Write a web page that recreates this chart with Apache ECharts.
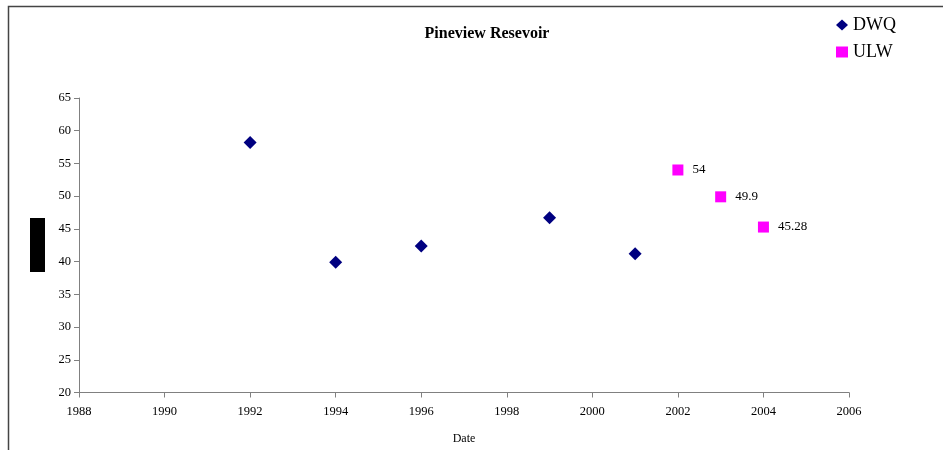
<!DOCTYPE html>
<html>
<head>
<meta charset="utf-8">
<script src="https://cdn.jsdelivr.net/npm/echarts@6/dist/echarts.min.js"></script>
<style>
  html, body { margin: 0; padding: 0; background: #fff; }
  #chart { width: 943px; height: 450px; }
</style>
</head>
<body>
<div id="chart"></div>
<script>
// Sampling years and measured values per source
const dwqYears = [1992, 1994, 1996, 1999, 2001];
const dwqValues = [58.2, 39.9, 42.4, 46.7, 41.2];
const ulwYears = [2002, 2003, 2004];
const ulwValues = [54, 49.9, 45.28];

const serif = '"Liberation Serif", "DejaVu Serif", serif';

const chart = echarts.init(document.getElementById('chart'), null, { renderer: 'canvas' });

chart.setOption({
  animation: false,
  backgroundColor: '#fff',
  title: {
    text: 'Pineview Resevoir',
    left: 482,
    top: 21,
    textAlign: 'center',
    textStyle: { fontFamily: serif, fontSize: 16, fontWeight: 'bold', color: '#000' }
  },
  legend: {
    orient: 'vertical',
    left: 831,
    top: 11,
    itemWidth: 12,
    itemHeight: 11,
    itemGap: 9,
    textStyle: { fontFamily: serif, fontSize: 18, color: '#000', lineHeight: 18 },
    data: [
      { name: 'DWQ', icon: 'diamond' },
      { name: 'ULW', icon: 'rect', itemStyle: { borderWidth: 0 } }
    ]
  },
  grid: { left: 79, top: 98, width: 770, height: 294.5 },
  xAxis: {
    type: 'value',
    min: 1988,
    max: 2006,
    interval: 2,
    name: 'Date',
    nameLocation: 'middle',
    nameGap: 40,
    nameTextStyle: { fontFamily: serif, fontSize: 12, color: '#000' },
    axisLine: { onZero: false, lineStyle: { color: '#808080', width: 1 } },
    axisTick: { show: true, length: 5, lineStyle: { color: '#808080' } },
    axisLabel: { fontFamily: serif, fontSize: 12.5, color: '#000', margin: 13, formatter: v => String(v) },
    splitLine: { show: false }
  },
  yAxis: {
    type: 'value',
    min: 20,
    max: 65,
    interval: 5,
    axisLine: { show: true, lineStyle: { color: '#808080', width: 1 } },
    axisTick: { show: true, length: 5, lineStyle: { color: '#808080' } },
    axisLabel: { fontFamily: serif, fontSize: 12.5, color: '#000', margin: 8 },
    splitLine: { show: false }
  },
  graphic: [
    {
      type: 'rect',
      shape: { x: 8.5, y: 6.5, width: 1000, height: 1000 },
      style: { fill: 'none', stroke: '#444', lineWidth: 1.5 },
      silent: true
    },
    {
      type: 'rect',
      shape: { x: 30, y: 218, width: 15, height: 54 },
      style: { fill: '#000' },
      silent: true
    }
  ],
  series: [
    {
      name: 'DWQ',
      type: 'scatter',
      symbol: 'diamond',
      symbolSize: 13,
      itemStyle: { color: '#000080', opacity: 1 },
      data: dwqYears.map((y, i) => [y, dwqValues[i]])
    },
    {
      name: 'ULW',
      type: 'scatter',
      symbol: 'rect',
      symbolSize: 11,
      itemStyle: { color: '#FF00FF', opacity: 1 },
      label: {
        show: true,
        position: 'right',
        distance: 9,
        fontFamily: serif,
        fontSize: 13,
        color: '#000',
        formatter: p => String(p.value[1])
      },
      data: ulwYears.map((y, i) => [y, ulwValues[i]])
    }
  ]
});
</script>
</body>
</html>
